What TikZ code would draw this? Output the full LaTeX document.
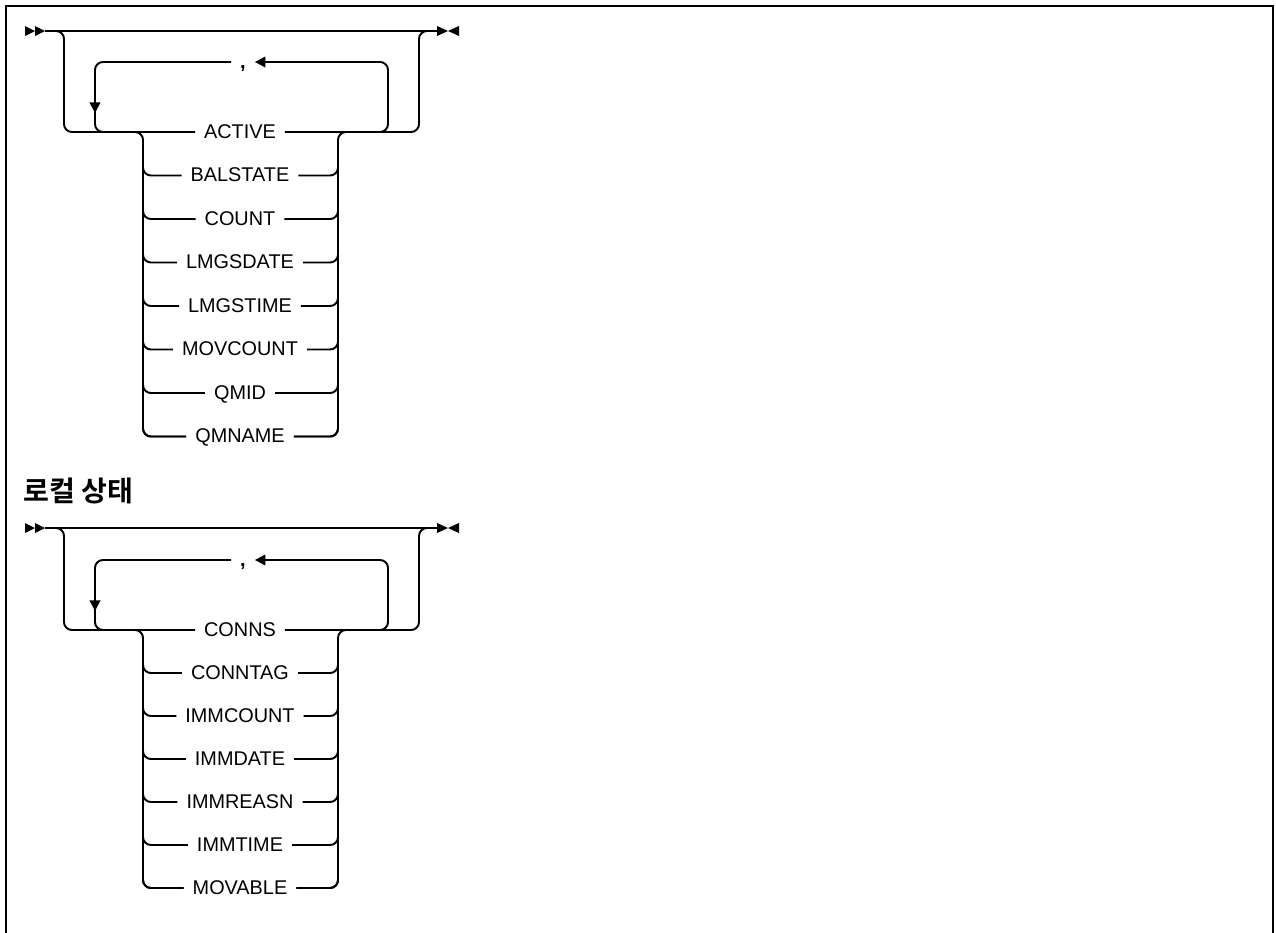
\documentclass[tikz,border=0pt]{standalone}
\usepackage{fontspec}
\setmainfont{Liberation Sans}
\newfontfamily\krfont{Noto Sans CJK KR}[BoldFont={Noto Sans CJK KR Bold}]
\usetikzlibrary{arrows.meta}

\begin{document}
\begin{tikzpicture}[
    x=0.02cm, y=-0.02cm,
    font=\fontsize{11.3}{13}\selectfont,
    rail/.style     = {black, line width=1.1pt, rounded corners=4.5pt},
    keyword/.style  = {inner xsep=5pt, inner ysep=0pt, text height=1.38ex, text depth=0pt},
    loop-tip/.style = {-{Triangle[length=6pt, width=6pt]}},
    frame/.style    = {black, line width=1.4pt}
  ]
\useasboundingbox (0,0) rectangle (1276,933);

% outer frame (open at the bottom)
\draw[frame] (6,933) -- (6,6) -- (1273,6) -- (1273,933);

% =========================================================
% DIAGRAM 1 -- queue manager status attributes
% =========================================================
% start / end markers
\fill (25,26) -- (35,31) -- (25,36) -- cycle;
\fill (35,26) -- (45,31) -- (35,36) -- cycle;
\fill (437,26) -- (448,31) -- (437,36) -- cycle;
\fill (459,26) -- (448,31) -- (459,36) -- cycle;
\coordinate (in1) at (45,31);
\coordinate (out1) at (437,31);
\draw[rail] (in1) -- (out1);

% first choice sits on the row, bypassed by the main line
\node[keyword] (active) at (240,132) {ACTIVE};
\draw[rail] (50,31) -- (64,31) -- (64,132) -- (active.west);
\draw[rail] (active.east) -- (419,132) -- (419,31) -- (432,31);

% repeat loop with separator
\node[keyword] (sep1) at (243,62) {\textbf{,}};
\draw[rail, loop-tip] (360,132) -- (388,132) -- (388,62) -- (sep1.east);
\draw[rail, loop-tip] (sep1.west) -- (95,62) -- (95,113);
\draw[rail] (95,110) -- (95,132) -- (125,132);

% remaining choices hang below
\foreach \kw [count=\i] in {BALSTATE, COUNT, LMGSDATE, LMGSTIME, MOVCOUNT, QMID, QMNAME} {
  \node[keyword] (qm\i) at (240,{132+43.5*\i}) {\kw};
  \draw[rail] (143,{132+43.5*\i-20}) |- (qm\i.west);
  \draw[rail] (qm\i.east) -| (338,{132+43.5*\i-20});
}
\draw[rail] (128,132) -- (143,132) -- (143,436.5) -- (qm7.west);
\draw[rail] (qm7.east) -- (338,436.5) -- (338,132) -- (353,132);

% heading of the second diagram
\node[anchor=west, inner sep=0pt, font=\krfont\bfseries\fontsize{16}{19}\selectfont]
  (heading) at (23,491) {로컬 상태};

% =========================================================
% DIAGRAM 2 -- local status attributes
% =========================================================
\fill (25,523) -- (35,528) -- (25,533) -- cycle;
\fill (35,523) -- (45,528) -- (35,533) -- cycle;
\fill (437,523) -- (448,528) -- (437,533) -- cycle;
\fill (459,523) -- (448,528) -- (459,533) -- cycle;
\coordinate (in2) at (45,528);
\coordinate (out2) at (437,528);
\draw[rail] (in2) -- (out2);

\node[keyword] (conns) at (240,630) {CONNS};
\draw[rail] (50,528) -- (64,528) -- (64,630) -- (conns.west);
\draw[rail] (conns.east) -- (419,630) -- (419,528) -- (432,528);

\node[keyword] (sep2) at (243,560) {\textbf{,}};
\draw[rail, loop-tip] (360,630) -- (388,630) -- (388,560) -- (sep2.east);
\draw[rail, loop-tip] (sep2.west) -- (95,560) -- (95,611);
\draw[rail] (95,608) -- (95,630) -- (125,630);

\foreach \kw [count=\i] in {CONNTAG, IMMCOUNT, IMMDATE, IMMREASN, IMMTIME, MOVABLE} {
  \node[keyword] (loc\i) at (240,{630+43*\i}) {\kw};
  \draw[rail] (143,{630+43*\i-20}) |- (loc\i.west);
  \draw[rail] (loc\i.east) -| (338,{630+43*\i-20});
}
\draw[rail] (128,630) -- (143,630) -- (143,888) -- (loc6.west);
\draw[rail] (loc6.east) -- (338,888) -- (338,630) -- (353,630);

\end{tikzpicture}
\end{document}
